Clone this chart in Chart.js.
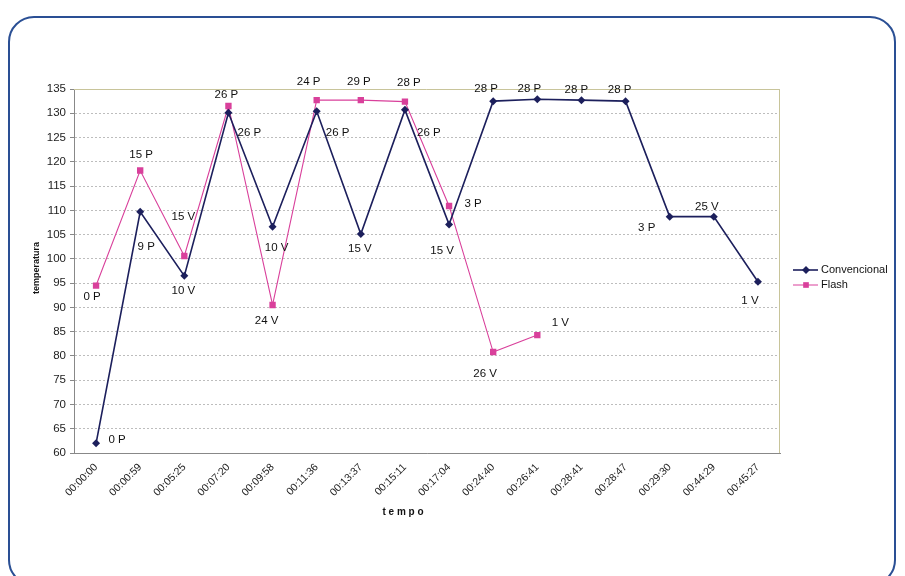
<!DOCTYPE html>
<html>
<head>
<meta charset="utf-8">
<script src="https://cdn.jsdelivr.net/npm/chart.js@4/dist/chart.umd.min.js"></script>
<style>
  body { margin: 0; background: #fff; }
  #wrap { position: relative; width: 905px; height: 576px; }
  #frame { position: absolute; left: 8px; top: 16px; width: 888px; height: 570px;
           border: 2px solid #2a4f94; border-radius: 26px; box-sizing: border-box; }
  canvas { position: absolute; left: 0; top: 0; }
</style>
</head>
<body>
<div id="wrap">
  <div id="frame"></div>
  <canvas id="c"></canvas>
</div>
<script>
const categories = ['00:00:00', '00:00:59', '00:05:25', '00:07:20', '00:09:58', '00:11:36', '00:13:37', '00:15:11',
  '00:17:04', '00:24:40', '00:26:41', '00:28:41', '00:28:47', '00:29:30', '00:44:29', '00:45:27'];
const convencional = [62, 109.7, 96.5, 130.1, 106.6, 130.4, 105.1, 130.7, 107.1, 132.5, 132.9, 132.7, 132.5, 108.7, 108.7, 95.3];
const flash = [94.5, 118.2, 100.6, 131.5, 90.5, 132.7, 132.7, 132.4, 110.9, 80.8, 84.3, null, null, null, null, null];
const convencionalTags = ['0 P', '9 P', '10 V', '26 P', '10 V', '26 P', '15 V', '26 P', '15 V', '28 P', '28 P', '28 P', '28 P', '3 P', '25 V', '1 V'];
const flashTags = ['0 P', '15 P', '15 V', '26 P', '24 V', '24 P', '29 P', '28 P', '3 P', '26 V', '1 V'];

// where each tag sits relative to its point (dx, dy in px)
const convTagOffset = [[21, -3], [6, 35], [-1, 15], [21, 20], [4, 21], [21, 22], [-1, 15], [24, 23], [-7, 26],
  [-7, -12], [-8, -10], [-5, -10], [-6, -11], [-23, 11], [-7, -10], [-8, 19]];
const flashTagOffset = [[-4, 11], [1, -16], [-1, -39], [-2, -11], [-6, 16], [-8, -18], [-2, -18], [4, -19],
  [24, -2], [-8, 22], [23, -12]];

const navy = '#1c1f5c';
const pink = '#d9409b';

const extras = {
  id: 'extras',
  beforeDatasetsDraw(chart) {
    const { ctx, chartArea: a } = chart;
    ctx.save();
    ctx.strokeStyle = '#c8c49a';
    ctx.lineWidth = 1;
    ctx.beginPath();
    ctx.moveTo(a.left, a.top + 0.5);
    ctx.lineTo(a.right - 0.5, a.top + 0.5);
    ctx.lineTo(a.right - 0.5, a.bottom);
    ctx.stroke();
    ctx.restore();
  },
  afterDraw(chart) {
    const { ctx, chartArea: a } = chart;
    ctx.save();
    ctx.fillStyle = '#111';
    ctx.font = '11.5px Arial, "Liberation Sans"';
    ctx.textAlign = 'center';
    ctx.textBaseline = 'middle';
    const tag = (dsIndex, tags, offs) => {
      const meta = chart.getDatasetMeta(dsIndex);
      tags.forEach((t, i) => {
        const p = meta.data[i];
        if (!p || p.skip) return;
        ctx.fillText(t, p.x + offs[i][0], p.y + offs[i][1]);
      });
    };
    tag(0, convencionalTags, convTagOffset);
    tag(1, flashTags, flashTagOffset);

    // axis titles
    ctx.font = 'bold 10px Arial, "Liberation Sans"';
    ctx.fillText('t e m p o', (a.left + a.right) / 2 - 24, 512);
    ctx.save();
    ctx.translate(37, 268);
    ctx.rotate(-Math.PI / 2);
    ctx.font = 'bold 9px Arial, "Liberation Sans"';
    ctx.fillText('temperatura', 0, 0);
    ctx.restore();

    // legend
    const items = [['Convencional', navy, 'rectRot', 1.6], ['Flash', pink, 'rect', 1]];
    ctx.font = '11px Arial, "Liberation Sans"';
    ctx.textAlign = 'left';
    items.forEach((it, k) => {
      const y = 270 + k * 15;
      ctx.strokeStyle = it[1];
      ctx.lineWidth = it[3];
      ctx.beginPath();
      ctx.moveTo(793, y);
      ctx.lineTo(818, y);
      ctx.stroke();
      ctx.fillStyle = it[1];
      Chart.helpers.drawPoint(ctx, { pointStyle: it[2], radius: 4, rotation: 0, borderWidth: 0 }, 806, y);
      ctx.fillStyle = '#111';
      ctx.fillText(it[0], 821, y);
    });
    ctx.restore();
  }
};

new Chart(document.getElementById('c'), {
  type: 'line',
  data: {
    labels: categories,
    datasets: [
      {
        label: 'Convencional',
        data: convencional,
        borderColor: navy,
        backgroundColor: navy,
        borderWidth: 1.6,
        pointStyle: 'rectRot',
        pointRadius: 4,
        pointBorderWidth: 0,
        tension: 0,
        order: 1
      },
      {
        label: 'Flash',
        data: flash,
        borderColor: pink,
        backgroundColor: pink,
        borderWidth: 1.1,
        pointStyle: 'rect',
        pointRadius: 4.5,
        pointBorderWidth: 0,
        tension: 0,
        order: 2
      }
    ]
  },
  options: {
    responsive: true,
    maintainAspectRatio: false,
    animation: false,
    layout: { padding: { left: 30, top: 89, right: 125, bottom: 0 } },
    plugins: {
      legend: { display: false },
      tooltip: { enabled: false }
    },
    scales: {
      x: {
        offset: true,
        afterFit: s => { s.height = 123; },
        grid: { display: false, drawTicks: true },
        border: { color: '#888', width: 1 },
        ticks: {
          color: '#222',
          padding: 0,
          font: { size: 10.5, family: 'Arial, "Liberation Sans"' },
          minRotation: 45,
          maxRotation: 45,
          autoSkip: false
        }
      },
      y: {
        min: 60,
        max: 135,
        afterFit: s => { s.width = 44; },
        grid: { color: '#bdbdbd', tickColor: '#888', tickLength: 4 },
        border: { color: '#888', width: 1, dash: [2, 2] },
        ticks: {
          stepSize: 5,
          color: '#222',
          padding: 4,
          font: { size: 11.5, family: 'Arial, "Liberation Sans"' }
        }
      }
    }
  },
  plugins: [extras]
});
</script>
</body>
</html>
